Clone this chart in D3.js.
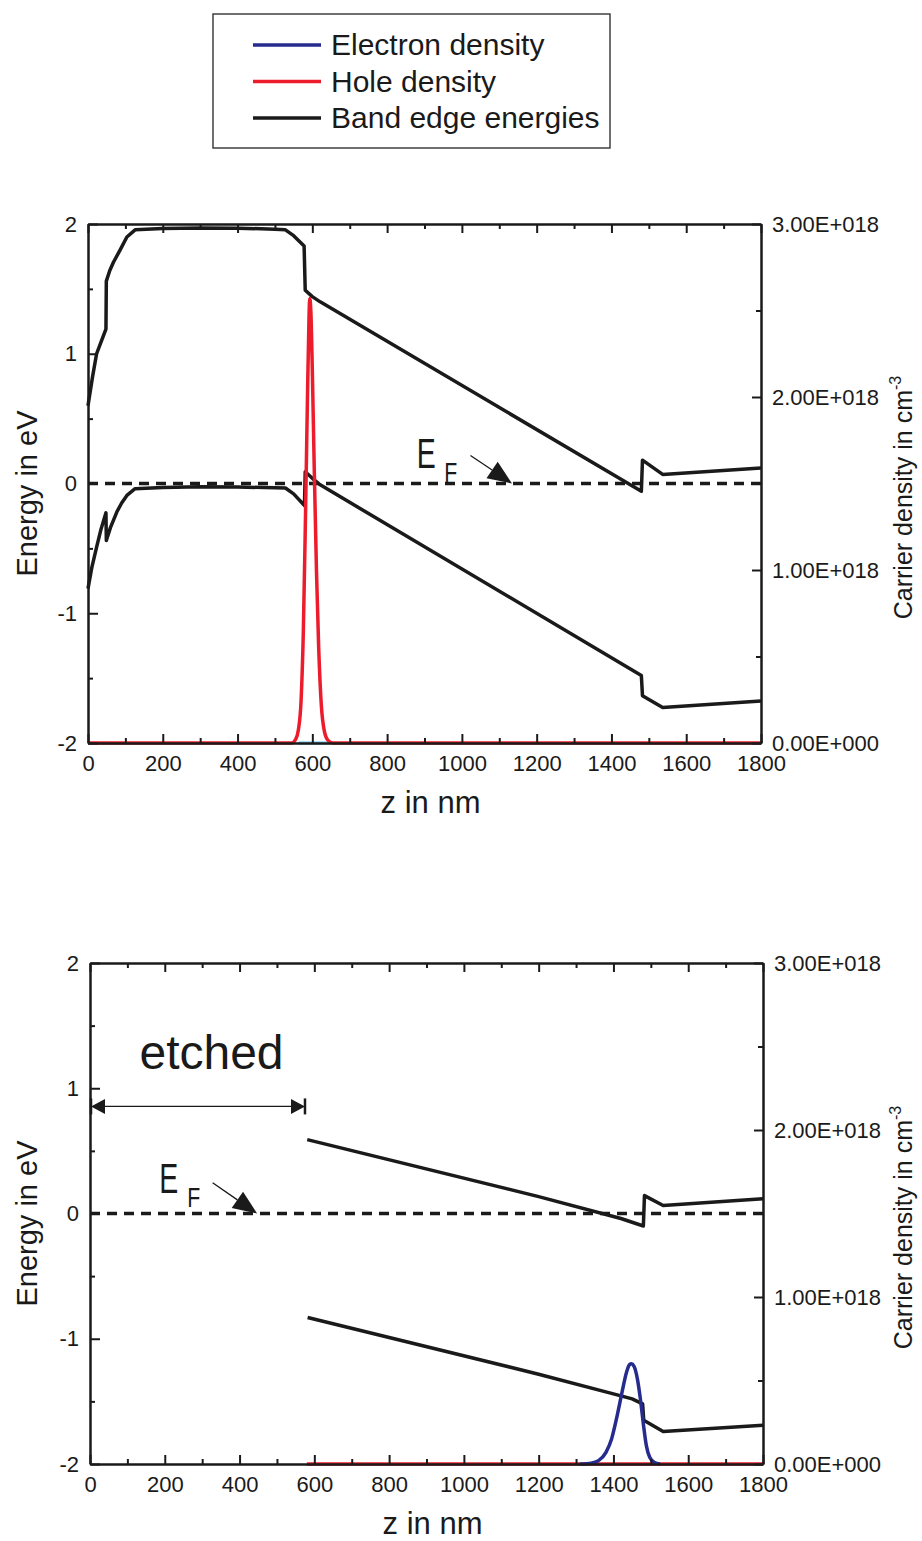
<!DOCTYPE html>
<html>
<head>
<meta charset="utf-8">
<script src="https://cdn.jsdelivr.net/npm/d3@7"></script>
<style>
	body { margin: 0; background: #fff; }
	svg text { font-family: "Liberation Sans", Arial, sans-serif; fill: #1a1a1a; }
</style>
</head>
<body>
<div id="chart-area"></div>
<script>
// canvas size
const canvasWidth = 922;
const canvasHeight = 1541;

// legend
const legendNames = ["Electron density", "Hole density", "Band edge energies"];

// colours
const black = "#1a1a1a";
const red = "#ec1c2c";
const navy = "#262b8e";
const lightBlue = "#86d3f2";
const legendColors = [navy, red, black];

// axis ticks
const zMajorTicks = [0, 200, 400, 600, 800, 1000, 1200, 1400, 1600, 1800];
const zMinorTicks = [100, 300, 500, 700, 900, 1100, 1300, 1500, 1700];
const energyMajorTicks = [-2, -1, 0, 1, 2];
const energyMinorTicks = [-1.5, -0.5, 0.5, 1.5];
// carrier density in units of 1E+018 cm^-3
const densityMajorTicks = [0, 1, 2, 3];
const densityMinorTicks = [0.5, 1.5, 2.5];
const densityTickLabels = ["0.00E+000", "1.00E+018", "2.00E+018", "3.00E+018"];

// ---- top panel data: [z in nm, value]
const topConduction = [[0, 0.60], [12, 0.82], [23, 1.00], [36, 1.10], [48, 1.19], [49, 1.56], [58, 1.64],
	[68, 1.705], [86, 1.80], [104, 1.90], [126, 1.955], [200, 1.965], [300, 1.97], [400, 1.968],
	[500, 1.96], [528, 1.955], [550, 1.91], [578, 1.83], [581, 1.49], [600, 1.44], [621, 1.40],
	[1480, -0.06], [1483, 0.18], [1537, 0.07], [1800, 0.12]];
const topValence = [[0, -0.81], [10, -0.65], [23, -0.49], [35, -0.35], [48, -0.226], [49, -0.44],
	[60, -0.34], [77, -0.22], [90, -0.15], [104, -0.092], [126, -0.04], [200, -0.03], [300, -0.025],
	[400, -0.027], [528, -0.035], [550, -0.08], [579, -0.17], [581, 0.09], [600, 0.04], [621, -0.01],
	[1480, -1.48], [1483, -1.635], [1537, -1.727], [1800, -1.677]];
const topHole = [[0, 0], [545, 0], [555, 0.02], [563, 0.08], [570, 0.25], [576, 0.65], [582, 1.35],
	[587, 2.0], [591, 2.45], [593, 2.57], [596, 2.5], [600, 2.15], [605, 1.6], [611, 1.0], [617, 0.55],
	[624, 0.22], [632, 0.07], [642, 0.015], [655, 0], [1800, 0]];
const topElectron = [[563, 0], [648, 0]];

// ---- bottom panel data
const bottomConduction = [[581, 0.59], [1200, 0.135], [1420, -0.04], [1480, -0.10], [1483, 0.143],
	[1533, 0.064], [1800, 0.117]];
const bottomValence = [[582, -0.83], [1200, -1.283], [1400, -1.44], [1450, -1.48], [1478, -1.52],
	[1481, -1.65], [1533, -1.74], [1800, -1.69]];
const bottomHole = [[580, 0], [1800, 0]];
const bottomElectron = [[1310, 0], [1340, 0.005], [1360, 0.02], [1380, 0.07], [1395, 0.15],
	[1410, 0.29], [1423, 0.43], [1435, 0.55], [1443, 0.595], [1448, 0.6], [1455, 0.585], [1464, 0.51],
	[1472, 0.39], [1480, 0.24], [1488, 0.11], [1497, 0.04], [1510, 0.008], [1525, 0]];

// panel layout
const panels = [
	{ left: 88, right: 761, top: 224, bottom: 743,
		conduction: topConduction, valence: topValence,
		densities: [{ data: topElectron, color: lightBlue }, { data: topHole, color: red }],
		efLabel: [879, 0.123], efSub: [953, 0.008], efFrom: [1023, 0.216], efTo: [1134, 0],
		etched: false },
	{ left: 90, right: 763, top: 963, bottom: 1464,
		conduction: bottomConduction, valence: bottomValence,
		densities: [{ data: bottomHole, color: red }, { data: bottomElectron, color: navy }],
		efLabel: [185, 0.167], efSub: [260, 0.048], efFrom: [328, 0.245], efTo: [447, 0],
		etched: true }
];

const svg = d3.select("#chart-area")
	.append("svg")
		.attr("width", canvasWidth)
		.attr("height", canvasHeight);

// legend
const legend = svg.append("g");
legend.append("rect")
	.attr("x", 213).attr("y", 14)
	.attr("width", 397).attr("height", 134)
	.attr("fill", "none")
	.attr("stroke", "#333")
	.attr("stroke-width", 1.4);
legendNames.forEach((name, i) => {
	const y = 45 + i * 36.5;
	legend.append("line")
		.attr("x1", 253).attr("x2", 321)
		.attr("y1", y).attr("y2", y)
		.attr("stroke", legendColors[i])
		.attr("stroke-width", 3.5);
	legend.append("text")
		.attr("x", 331).attr("y", y + 10)
		.attr("font-size", "30px")
		.text(name);
});

// arrow helper: thin line with a filled head at (x2, y2)
function drawArrow(g, x1, y1, x2, y2, headLen, headHalf, width) {
	const ang = Math.atan2(y2 - y1, x2 - x1);
	const bx = x2 - headLen * Math.cos(ang);
	const by = y2 - headLen * Math.sin(ang);
	g.append("line")
		.attr("x1", x1).attr("y1", y1).attr("x2", bx).attr("y2", by)
		.attr("stroke", black).attr("stroke-width", width);
	const px = -Math.sin(ang) * headHalf, py = Math.cos(ang) * headHalf;
	g.append("path")
		.attr("d", `M${x2},${y2}L${bx + px},${by + py}L${bx - px},${by - py}Z`)
		.attr("fill", black);
}

panels.forEach((p) => {
	const g = svg.append("g");

	const xScale = d3.scaleLinear().domain([0, 1800]).range([p.left, p.right]);
	const yScale = d3.scaleLinear().domain([-2, 2]).range([p.bottom, p.top]);
	const yDensity = d3.scaleLinear().domain([0, 3]).range([p.bottom, p.top]);

	const bandLine = d3.line().x((d) => xScale(d[0])).y((d) => yScale(d[1]));
	const densityLine = d3.line().curve(d3.curveMonotoneX).x((d) => xScale(d[0])).y((d) => yDensity(d[1]));

	// Fermi level
	g.append("line")
		.attr("x1", xScale(0)).attr("x2", xScale(1800))
		.attr("y1", yScale(0)).attr("y2", yScale(0))
		.attr("stroke", black)
		.attr("stroke-width", 3.5)
		.attr("stroke-dasharray", "10,7");

	// band edges
	[p.conduction, p.valence].forEach((band) => {
		g.append("path")
			.attr("d", bandLine(band))
			.attr("fill", "none")
			.attr("stroke", black)
			.attr("stroke-width", 3.5)
			.attr("stroke-linejoin", "round");
	});

	// carrier densities
	p.densities.forEach((s) => {
		g.append("path")
			.attr("d", densityLine(s.data))
			.attr("fill", "none")
			.attr("stroke", s.color)
			.attr("stroke-width", 3.5)
			.attr("stroke-linejoin", "round");
	});

	// axes: major and minor ticks point inward
	const axisStyle = (sel) => {
		sel.select(".domain").attr("stroke", black).attr("stroke-width", 2);
		sel.selectAll(".tick line").attr("stroke", black).attr("stroke-width", 2);
		sel.selectAll("text").attr("font-size", "22px").attr("font-family", "Liberation Sans, Arial, sans-serif").attr("fill", black);
	};

	g.append("g")
		.attr("transform", `translate(0,${p.bottom})`)
		.call(d3.axisBottom(xScale).tickValues(zMajorTicks).tickSizeInner(-9).tickSizeOuter(0).tickPadding(12)
			.tickFormat((d) => String(d)))
		.call(axisStyle);
	g.append("g")
		.attr("transform", `translate(0,${p.bottom})`)
		.call(d3.axisBottom(xScale).tickValues(zMinorTicks).tickSizeInner(-5).tickSizeOuter(0).tickFormat(""))
		.call(axisStyle);
	g.append("g")
		.attr("transform", `translate(0,${p.top})`)
		.call(d3.axisTop(xScale).tickValues(zMajorTicks).tickSizeInner(-9).tickSizeOuter(0).tickFormat(""))
		.call(axisStyle);
	g.append("g")
		.attr("transform", `translate(0,${p.top})`)
		.call(d3.axisTop(xScale).tickValues(zMinorTicks).tickSizeInner(-5).tickSizeOuter(0).tickFormat(""))
		.call(axisStyle);

	g.append("g")
		.attr("transform", `translate(${p.left},0)`)
		.call(d3.axisLeft(yScale).tickValues(energyMajorTicks).tickSizeInner(-10).tickSizeOuter(0).tickPadding(11)
			.tickFormat((d) => String(d)))
		.call(axisStyle);
	g.append("g")
		.attr("transform", `translate(${p.left},0)`)
		.call(d3.axisLeft(yScale).tickValues(energyMinorTicks).tickSizeInner(-5).tickSizeOuter(0).tickFormat(""))
		.call(axisStyle);

	g.append("g")
		.attr("transform", `translate(${p.right},0)`)
		.call(d3.axisRight(yDensity).tickValues(densityMajorTicks).tickSizeInner(-9).tickSizeOuter(0).tickPadding(11)
			.tickFormat((d, i) => densityTickLabels[i]))
		.call(axisStyle);
	g.append("g")
		.attr("transform", `translate(${p.right},0)`)
		.call(d3.axisRight(yDensity).tickValues(densityMinorTicks).tickSizeInner(-5).tickSizeOuter(0).tickFormat(""))
		.call(axisStyle);

	// axis titles
	const midY = (p.top + p.bottom) / 2;
	g.append("text")
		.attr("x", (p.left + p.right) / 2 + 6)
		.attr("y", p.bottom + 70)
		.attr("font-size", "31px")
		.attr("text-anchor", "middle")
		.text("z in nm");
	g.append("text")
		.attr("transform", `translate(37,${midY + 10}) rotate(-90)`)
		.attr("font-size", "29px")
		.attr("text-anchor", "middle")
		.text("Energy in eV");
	const rightTitle = g.append("text")
		.attr("transform", `translate(912,${midY + 14}) rotate(-90)`)
		.attr("font-size", "25px")
		.attr("text-anchor", "middle");
	rightTitle.append("tspan").text("Carrier density in cm");
	rightTitle.append("tspan").attr("font-size", "16px").attr("dy", "-11").text("-3");

	// Fermi level label and arrow (narrow lettering)
	g.append("text")
		.attr("x", xScale(p.efLabel[0])).attr("y", yScale(p.efLabel[1]))
		.attr("font-size", "42px")
		.attr("textLength", 19)
		.attr("lengthAdjust", "spacingAndGlyphs")
		.text("E");
	g.append("text")
		.attr("x", xScale(p.efSub[0])).attr("y", yScale(p.efSub[1]))
		.attr("font-size", "28px")
		.attr("textLength", 13)
		.attr("lengthAdjust", "spacingAndGlyphs")
		.text("F");
	drawArrow(g, xScale(p.efFrom[0]), yScale(p.efFrom[1]), xScale(p.efTo[0]), yScale(p.efTo[1]), 24, 10, 1.3);

	// etched region marker
	if (p.etched) {
		g.append("text")
			.attr("x", xScale(325)).attr("y", yScale(1.15))
			.attr("font-size", "48px")
			.attr("text-anchor", "middle")
			.text("etched");
		const ya = yScale(0.855);
		const xa = xScale(0) + 1, xb = xScale(575);
		drawArrow(g, (xa + xb) / 2, ya, xa, ya, 14, 7.5, 1.3);
		drawArrow(g, (xa + xb) / 2, ya, xb, ya, 14, 7.5, 1.3);
		[xa, xb].forEach((x) => {
			g.append("line")
				.attr("x1", x).attr("x2", x)
				.attr("y1", ya - 8).attr("y2", ya + 8)
				.attr("stroke", black).attr("stroke-width", 2.5);
		});
	}
});
</script>
</body>
</html>
